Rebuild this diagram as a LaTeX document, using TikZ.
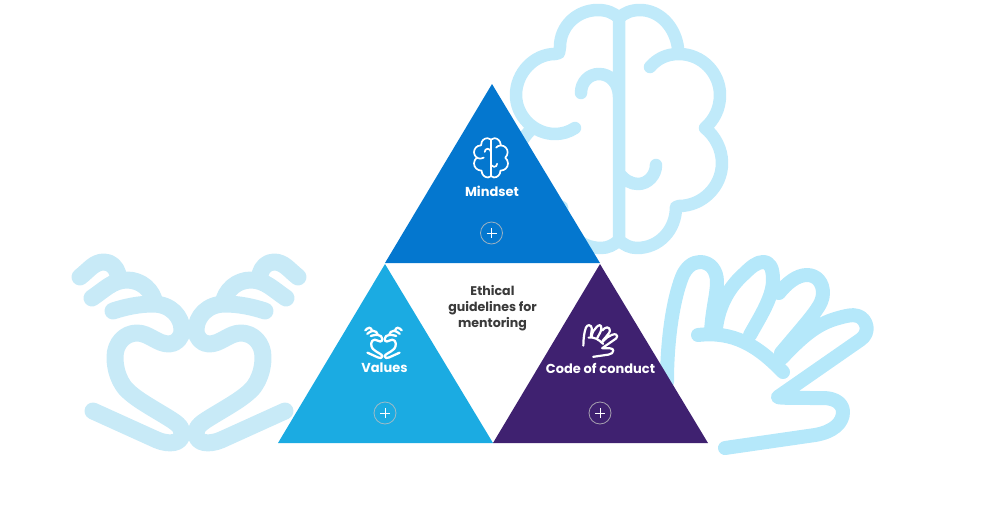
\documentclass[tikz,border=0pt]{standalone}
\usepackage{fontspec}
\setmainfont{Poppins}
\usetikzlibrary{calc,positioning}
\definecolor{mindsetblue}{HTML}{0477CF}
\definecolor{valuesblue}{HTML}{1BABE2}
\definecolor{conductpurple}{HTML}{3F2170}
\definecolor{brainpale}{HTML}{C0EAFA}
\definecolor{heartpale}{HTML}{C8EAF7}
\definecolor{handpale}{HTML}{B5E8FA}
\definecolor{bodygrey}{HTML}{3A3A3A}
\tikzset{
  tri/.style={draw=none},
  title/.style={text=white, font=\bfseries\fontsize{13}{15}\selectfont, inner sep=0pt},
  centertext/.style={text=bodygrey, align=center, font=\bfseries\fontsize{12.6}{16.2}\selectfont, inner sep=0pt},
  plusbtn/.style={circle, draw=white!75!black, draw opacity=.8, line width=.8pt, minimum size=22pt, inner sep=0pt},
  plusmark/.style={white, line width=.8pt},
  icon/.style={line cap=round, line join=round},
  brain/.pic={
    \draw[icon, iconline]
      (-44,-2) .. controls (-50,2) and (-57,4) .. (-64,4) .. controls (-85,4) and (-103,-14) .. (-103,-35)
        .. controls (-103,-57) and (-85,-76) .. (-64,-76) -- (-60,-77) -- (-59,-83)
        .. controls (-59,-104) and (-42,-120) .. (-21,-120) .. controls (-12,-120) and (-5,-117) .. (0,-112)
        .. controls (5,-117) and (12,-120) .. (21,-120) .. controls (40,-120) and (56,-104) .. (59,-82)
      (31,-63) .. controls (38,-71) and (47,-76) .. (60,-76) .. controls (83,-76) and (101,-57) .. (101,-35)
        .. controls (101,-21) and (95,-10) .. (86,-2) .. controls (96,6) and (103,19) .. (103,33)
        .. controls (103,57) and (83,76) .. (60,76) -- (57,77) .. controls (57,100) and (40,118) .. (18,118)
        .. controls (11,118) and (5,115) .. (0,110)
      (-86,-2) .. controls (-96,6) and (-103,19) .. (-103,33) .. controls (-103,57) and (-83,76) .. (-60,76)
        -- (-57,77) .. controls (-57,100) and (-40,118) .. (-18,118) .. controls (-11,118) and (-5,115) .. (0,110)
      (-38,-37) .. controls (-38,-48) and (-30,-56) .. (-20,-56) .. controls (-9,-56) and (0,-47) .. (0,-33)
      (37,35) .. controls (37,45) and (29,54) .. (19,54) .. controls (12,54) and (5,50) .. (0,43)
      (0,-112) -- (0,110);
  },
  heart/.pic={
    \foreach \s in {1,-1} {
      \begin{scope}[xscale=\s]
        \draw[icon, iconline]
          (-96,61) -- (-32,90) .. controls (-20,95) and (-7,94) .. (-7,83) .. controls (-7,76) and (-14,72) .. (-22,67)
            .. controls (-40,56) and (-55,48) .. (-64,38) .. controls (-70,30) and (-74,20) .. (-74,7)
            .. controls (-74,-7) and (-64,-17) .. (-52,-17) .. controls (-40,-17) and (-32,-6) .. (-20,-6)
            .. controls (-13,-6) and (-7,-12) .. (-7,-20) .. controls (-7,-33) and (-18,-46) .. (-36,-46)
            .. controls (-50,-46) and (-64,-43) .. (-76,-39)
          (-97,-52) .. controls (-85,-60) and (-76,-70) .. (-62,-70) .. controls (-48,-70) and (-36,-60) .. (-34,-46)
          (-109,-73) .. controls (-100,-80) and (-95,-88) .. (-85,-88) .. controls (-78,-88) and (-73,-83) .. (-71,-76);
      \end{scope}
    }
  },
  hand/.pic={
    \draw[icon, iconline]
      (-98,27) .. controls (-98,-15) and (-92,-55) .. (-83,-78) .. controls (-79,-88) and (-72,-93) .. (-65,-93)
        .. controls (-55,-93) and (-48,-85) .. (-48,-73) .. controls (-48,-60) and (-53,-45) .. (-54,-22)
      (-49,-27) .. controls (-46,-50) and (-36,-68) .. (-20,-82) .. controls (-14,-88) and (-8,-93) .. (-2,-93)
        .. controls (5,-93) and (8,-87) .. (8,-75) .. controls (8,-58) and (-5,-38) .. (-15,-20)
      (14,-62) .. controls (22,-72) and (32,-80) .. (42,-80) .. controls (52,-80) and (58,-72) .. (58,-62)
        .. controls (58,-50) and (48,-40) .. (16,-2)
      (17,3) .. controls (35,-16) and (50,-30) .. (70,-36) .. controls (80,-39) and (88,-41) .. (93,-39)
        .. controls (102,-36) and (106,-22) .. (95,-15) -- (13,42)
        .. controls (14,43) and (30,43) .. (58,43) .. controls (72,43) and (78,50) .. (78,57)
        .. controls (78,68) and (68,77) .. (50,80) -- (-40,93)
      (-67,-20) .. controls (-32,-24) and (-8,-10) .. (18,17);
  }
}

\begin{document}
\begin{tikzpicture}[x=1pt, y=-1pt]
    \useasboundingbox (0,0) rectangle (997,509);
    % big pale icons behind the triangles
    \pic[iconline/.style={draw=brainpale, line width=12.5pt}] at (619,130) {brain};
    \pic[iconline/.style={draw=heartpale, line width=17pt}] at (189,350) {heart};
    \pic[iconline/.style={draw=handpale, line width=14pt}] at (765,355) {hand};
    % triangles
    \fill[tri, mindsetblue] (492,84) -- (600,263) -- (385,263) -- cycle;
    \fill[tri, valuesblue] (385,264) -- (493,443) -- (278,443) -- cycle;
    \fill[tri, conductpurple] (600,264) -- (708,443) -- (493,443) -- cycle;
    % small white icons
    \pic[scale=.165, iconline/.style={draw=white, line width=1.7pt}] at (491,158) {brain};
    \pic[scale=.167, iconline/.style={draw=white, line width=2.3pt}] at (383.5,342.5) {heart};
    \pic[scale=.17, iconline/.style={draw=white, line width=2.2pt}] at (600,341) {hand};
    % labels
    \node[title] (mindset) at (492,191.5) {Mindset};
    \node[title] (values) at (384.5,368) {Values};
    \node[title] (conduct) at (600.5,368) {Code of conduct};
    \node[centertext] (ethics) at (492.5,308) {Ethical\\guidelines for\\mentoring};
    % plus buttons
    \node[plusbtn] (plusM) at (491.5,233) {};
    \node[plusbtn] (plusV) at (385,413) {};
    \node[plusbtn] (plusC) at (600,413) {};
    \foreach \btn in {plusM,plusV,plusC} {
        \draw[plusmark] ($(\btn)+(-5,0)$) -- ($(\btn)+(5,0)$);
        \draw[plusmark] ($(\btn)+(0,-5)$) -- ($(\btn)+(0,5)$);
    }
\end{tikzpicture}
\end{document}
